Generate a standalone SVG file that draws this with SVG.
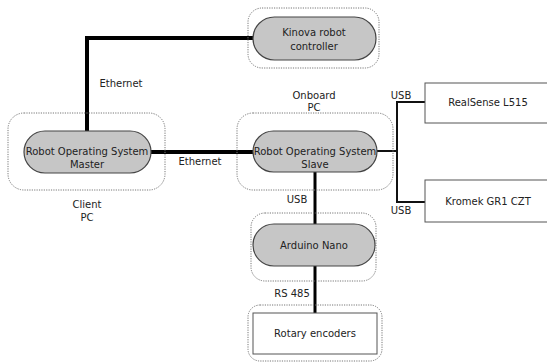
<svg xmlns="http://www.w3.org/2000/svg" width="547" height="362" viewBox="0 0 547 362">
<style>
text{font-family:"DejaVu Sans","Liberation Sans",sans-serif;font-size:10px;fill:#222;text-anchor:middle}
.grp{fill:none;stroke:#777;stroke-width:1;stroke-dasharray:1.2,1.2}
.pill{fill:#c6c6c6;stroke:#444;stroke-width:1.2}
.box{fill:#fff;stroke:#555;stroke-width:1}
.thick{fill:none;stroke:#000;stroke-width:4}
.mid{fill:none;stroke:#000;stroke-width:3}
.thin{fill:none;stroke:#111;stroke-width:2}
</style>
<rect width="547" height="362" fill="#fff"/>
<g id="connectors">
<polyline class="thick" points="87,131 87,38 253,38"/>
<line class="thick" x1="151" y1="152" x2="253" y2="152"/>
<line class="mid" x1="315" y1="172" x2="315" y2="313"/>
<line class="thin" x1="377" y1="151" x2="397" y2="151"/>
<polyline class="thin" points="425,102 397,102 397,202 425,202"/>
<text x="121" y="87">Ethernet</text>
<text x="200" y="165">Ethernet</text>
<text x="297" y="203">USB</text>
<text x="292" y="297">RS 485</text>
<text x="401" y="99">USB</text>
<text x="401" y="214">USB</text>
</g>
<g id="kinova">
<rect class="grp" x="248" y="8" width="131" height="60" rx="14"/>
<rect class="pill" x="253" y="17" width="123" height="43" rx="21.5"/>
<text x="314" y="36">Kinova robot</text>
<text x="314" y="50">controller</text>
</g>
<g id="master">
<rect class="grp" x="8" y="113" width="157" height="77" rx="16"/>
<rect class="pill" x="24" y="131" width="127" height="42" rx="21"/>
<text x="87" y="155">Robot Operating System</text>
<text x="87" y="168">Master</text>
<text x="87" y="208">Client</text>
<text x="87" y="221">PC</text>
</g>
<g id="slave">
<rect class="grp" x="237" y="113" width="156" height="77" rx="16"/>
<rect class="pill" x="253" y="131" width="124" height="41" rx="20.5"/>
<text x="315" y="155">Robot Operating System</text>
<text x="315" y="168">Slave</text>
<text x="314" y="99">Onboard</text>
<text x="314" y="111">PC</text>
</g>
<g id="realsense">
<rect class="box" x="425" y="83" width="130" height="40"/>
<text x="488" y="106">RealSense L515</text>
</g>
<g id="kromek">
<rect class="box" x="425" y="180" width="130" height="42"/>
<text x="488" y="205">Kromek GR1 CZT</text>
</g>
<g id="arduino">
<rect class="grp" x="251" y="213" width="125" height="68" rx="14"/>
<rect class="pill" x="253" y="224" width="122" height="42" rx="21"/>
<text x="314" y="249">Arduino Nano</text>
</g>
<g id="rotary">
<rect class="grp" x="248" y="305" width="134" height="56" rx="12"/>
<rect class="box" x="253" y="313" width="124" height="41"/>
<text x="315" y="337">Rotary encoders</text>
</g>
</svg>
